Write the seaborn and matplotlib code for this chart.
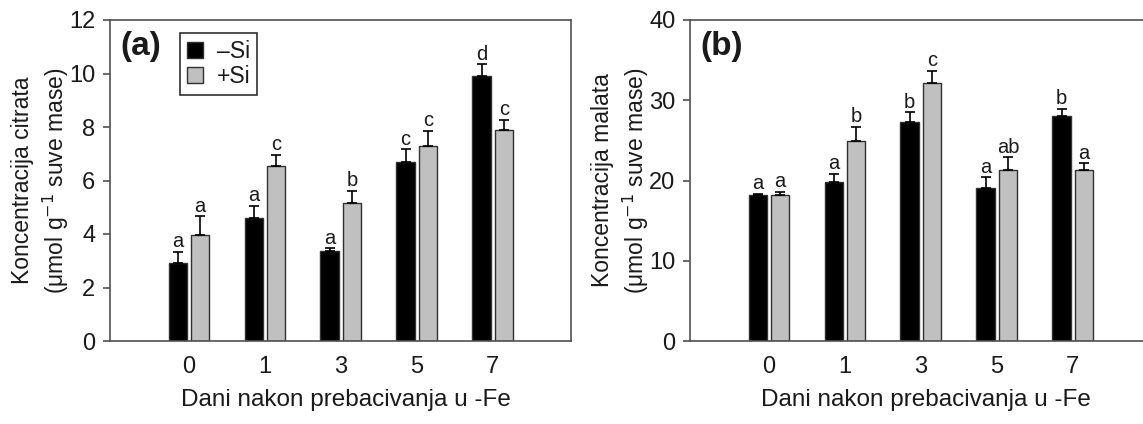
import numpy as np
import pandas as pd
import matplotlib
matplotlib.use("Agg")
import matplotlib.pyplot as plt
import seaborn as sns
from matplotlib.patches import Patch

# ---- data ----
days = ["0", "1", "3", "5", "7"]
treatments = ["\u2013Si", "+Si"]

citrate_minus = [2.93, 4.60, 3.38, 6.70, 9.89]
citrate_minus_err = [0.41, 0.45, 0.08, 0.46, 0.45]
citrate_plus = [3.95, 6.56, 5.16, 7.29, 7.87]
citrate_plus_err = [0.71, 0.39, 0.46, 0.56, 0.41]
citrate_letters_minus = ["a", "a", "a", "c", "d"]
citrate_letters_plus = ["a", "c", "b", "c", "c"]

malate_minus = [18.2, 19.8, 27.3, 19.1, 28.0]
malate_minus_err = [0.15, 1.0, 1.2, 1.3, 0.95]
malate_plus = [18.2, 24.9, 32.2, 21.25, 21.25]
malate_plus_err = [0.35, 1.75, 1.45, 1.65, 0.9]
malate_letters_minus = ["a", "a", "b", "a", "b"]
malate_letters_plus = ["a", "b", "c", "ab", "a"]

sns.set_theme(style="white")
plt.rcParams["font.family"] = ["Liberation Sans", "DejaVu Sans"]
plt.rcParams["text.color"] = "#1a1a1a"
plt.rcParams["axes.labelcolor"] = "#1a1a1a"
plt.rcParams["xtick.color"] = "#1a1a1a"
plt.rcParams["ytick.color"] = "#1a1a1a"

W, H = 1143, 424
fig = plt.figure(figsize=(W / 100, H / 100), dpi=100)

def make_df(minus, plus):
    return pd.DataFrame({
        "day": days * 2,
        "treat": [treatments[0]] * len(days) + [treatments[1]] * len(days),
        "val": list(minus) + list(plus),
    })

palette = {treatments[0]: "#000000", treatments[1]: "#c0c0c0"}

def panel(left_px, minus, minus_err, plus, plus_err, lm, lp, ymax, ystep,
          ylabel, tag, legend):
    ax = fig.add_axes([left_px / W, (H - 341) / H, 461 / W, 321 / H])
    df = make_df(minus, plus)
    sns.barplot(data=df, x="day", y="val", hue="treat", order=days,
                hue_order=treatments, palette=palette, width=0.59, gap=0.18,
                errorbar=None, edgecolor="#303030", linewidth=1.0,
                saturation=1, ax=ax, legend=False)
    for cont, errs, letters in zip(ax.containers, [minus_err, plus_err], [lm, lp]):
        xs = [p.get_x() + p.get_width() / 2 for p in cont]
        ys = [p.get_height() for p in cont]
        ax.errorbar(xs, ys, yerr=[np.zeros(len(errs)), errs], fmt="none",
                    ecolor="#000000", elinewidth=1.2, capsize=3.6,
                    capthick=1.2, zorder=3)
        for x, y, e, t in zip(xs, ys, errs, letters):
            ax.annotate(t, (x, y + e), xytext=(0, 0.5), textcoords="offset points",
                        ha="center", va="bottom", fontsize=14.5, color="#1a1a1a")
    ax.set_xlim(-1.04, 5.03)
    ax.set_ylim(0, ymax)
    ax.set_yticks(np.arange(0, ymax + 0.01, ystep))
    ax.set_yticklabels([f"{int(v)}" for v in np.arange(0, ymax + 0.01, ystep)])
    for s in ax.spines.values():
        s.set_color("#505050")
        s.set_linewidth(1.2)
    ax.tick_params(axis="y", left=True, length=5, width=1.2, color="#505050",
                   pad=5.5, labelsize=17, direction="out")
    ax.tick_params(axis="x", bottom=False, length=0, pad=11, labelsize=17)
    ax.set_xlabel("Dani nakon prebacivanja u -Fe", fontsize=17.5, va="center")
    ax.xaxis.set_label_coords(0.512, -0.184)
    ax.set_ylabel(ylabel, fontsize=16.5, linespacing=1.3, va="center")
    ax.yaxis.set_label_coords(-0.150, 0.5)
    ax.text(0.022, 0.919, tag, transform=ax.transAxes, fontsize=24,
            fontweight="bold", ha="left", va="center")
    if legend:
        handles = [Patch(facecolor=palette[t], edgecolor="#303030", linewidth=1.0)
                   for t in treatments]
        leg = ax.legend(handles, treatments, loc="upper left",
                        bbox_to_anchor=(0.152, 0.96), borderaxespad=0,
                        fontsize=16.5, frameon=True, fancybox=False,
                        handlelength=0.7, handleheight=0.7, handletextpad=0.6,
                        labelspacing=0.1, borderpad=0.3)
        leg.get_frame().set_edgecolor("#303030")
        leg.get_frame().set_linewidth(1.2)
        leg.get_frame().set_alpha(1)
    return ax

panel(110, citrate_minus, citrate_minus_err, citrate_plus, citrate_plus_err,
      citrate_letters_minus, citrate_letters_plus, 12, 2,
      "Koncentracija citrata\n(\u03bcmol g$^{-1}$ suve mase)", "(a)", True)
panel(690, malate_minus, malate_minus_err, malate_plus, malate_plus_err,
      malate_letters_minus, malate_letters_plus, 40, 10,
      "Koncentracija malata\n(\u03bcmol g$^{-1}$ suve mase)", "(b)", False)

fig.savefig("out.png", dpi=100, facecolor="white")
